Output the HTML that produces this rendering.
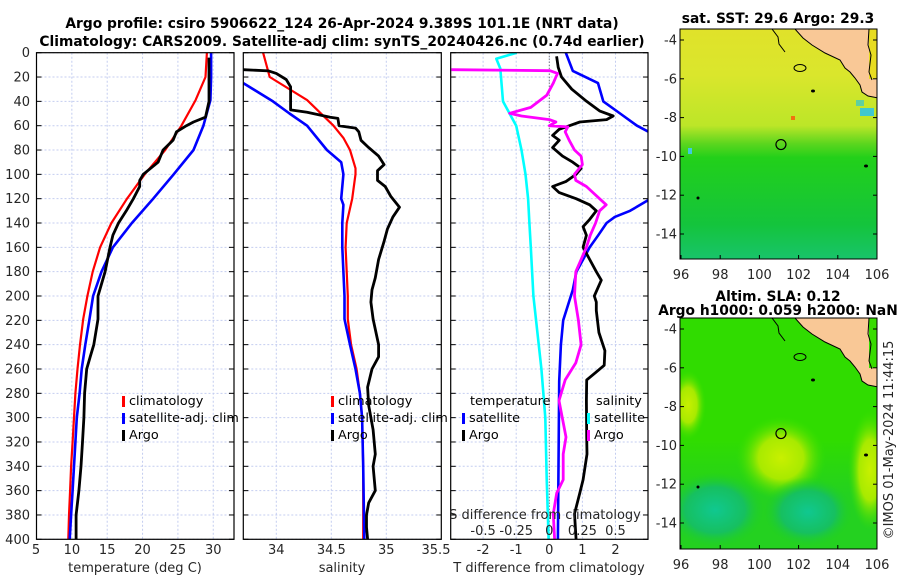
<!DOCTYPE html>
<html><head><meta charset="utf-8"><style>
body{margin:0;background:#fff;}
svg{display:block;font-family:"DejaVu Sans","Liberation Sans",sans-serif;}
.tk{font-size:13px;fill:#262626;}
.tt{font-size:13.8px;font-weight:bold;fill:#000;}
.lg{font-size:12.8px;fill:#000;}
</style></head><body>
<svg id="fig" width="900" height="580" viewBox="0 0 900 580">
<defs>
<clipPath id="c1"><rect x="36.5" y="52.7" width="197.5" height="486.6"/></clipPath>
<clipPath id="c2"><rect x="243.3" y="52.7" width="198" height="486.6"/></clipPath>
<clipPath id="c3"><rect x="450.7" y="52.7" width="197.3" height="486.6"/></clipPath>
<clipPath id="cm1"><rect x="680" y="29" width="197" height="230"/></clipPath>
<clipPath id="cm2"><rect x="680" y="318" width="197" height="231"/></clipPath>
<linearGradient id="sstg" x1="0" y1="0" x2="0" y2="1">
<stop offset="0" stop-color="#e0e22a"/><stop offset="0.2" stop-color="#dae62c"/><stop offset="0.42" stop-color="#bce628"/>
<stop offset="0.5" stop-color="#5ad61e"/><stop offset="0.56" stop-color="#22d01a"/><stop offset="0.85" stop-color="#14c43c"/><stop offset="1" stop-color="#18c46a"/>
</linearGradient>
<radialGradient id="slaY" cx="0.5" cy="0.5" r="0.5"><stop offset="0" stop-color="#c8f000"/><stop offset="0.5" stop-color="#a8ea00"/><stop offset="1" stop-color="#3ce000" stop-opacity="0"/></radialGradient>
<radialGradient id="slaT" cx="0.5" cy="0.5" r="0.5"><stop offset="0" stop-color="#10c890"/><stop offset="0.6" stop-color="#16c060"/><stop offset="1" stop-color="#20d020" stop-opacity="0"/></radialGradient>
<linearGradient id="slaBot" x1="0" y1="0" x2="0" y2="1"><stop offset="0" stop-color="#18c640" stop-opacity="0"/><stop offset="0.5" stop-color="#18c640" stop-opacity="0.5"/><stop offset="1" stop-color="#18c640" stop-opacity="0.5"/></linearGradient>
</defs>
<rect width="900" height="580" fill="#fff"/>
<g id="titles">
<text class="tt" x="342" y="28" text-anchor="middle">Argo profile: csiro 5906622_124 26-Apr-2024 9.389S 101.1E (NRT data)</text>
<text class="tt" x="342" y="46" text-anchor="middle">Climatology: CARS2009. Satellite-adj clim: synTS_20240426.nc (0.74d earlier)</text>
</g>
<g id="axes"></g>
<g id="maps"></g>
</svg>
<script>
// ---- data ----
const tClimDepth=[0,20,39,60,80,100,120,140,160,180,200,219,240,260,280,300,320,340,360,380,400];
const tClimVal=[29.1,28.9,27.5,25.5,23.2,20.3,17.8,15.6,14.0,12.95,12.2,11.6,11.15,10.8,10.5,10.3,10.1,9.9,9.75,9.6,9.5];
const tSatDepth=[0,20,39,60,80,100,120,140,160,180,200,219,240,260,280,300,320,340,360,380,400];
const tSatVal=[29.7,29.7,29.6,28.6,27.2,24.4,21.5,18.5,15.8,14.2,13.0,12.5,11.9,11.4,11.1,10.7,10.5,10.3,10.1,9.9,9.7];
const tArgoDepth=[4,40,53,57,60,65,72,80,90,100,105,110,120,130,140,150,160,180,200,219,240,250,260,280,300,320,340,360,370,380,400];
const tArgoVal=[29.4,29.4,28.9,27.2,26.2,24.8,24.3,22.9,22.2,20.1,19.6,19.6,18.7,17.7,16.6,15.8,15.4,14.7,13.7,13.7,13.1,12.6,12.1,11.8,11.7,11.5,11.3,11.0,10.8,10.6,10.6];
const sClimDepth=[0,20,39,60,70,80,95,100,120,140,160,200,219,240,260,280,300,340,400];
const sClimVal=[33.88,33.94,34.28,34.52,34.61,34.67,34.72,34.72,34.69,34.64,34.63,34.65,34.65,34.68,34.73,34.76,34.78,34.79,34.79];
const sSatDepth=[25,40,50,60,80,90,100,120,125,140,160,200,219,240,260,280,300,340,400];
const sSatVal=[33.70,33.97,34.12,34.28,34.46,34.59,34.61,34.59,34.61,34.60,34.60,34.62,34.62,34.67,34.72,34.76,34.78,34.79,34.80];
const sArgoDepth=[14,15,17,22,28,47,49,53,54,60,62,65,72,78,85,92,97,105,110,118,127,135,145,155,170,185,195,205,219,240,250,260,275,290,310,330,340,360,370,380,390,400];
const sArgoVal=[33.70,33.93,34.0,34.09,34.13,34.13,34.28,34.49,34.56,34.57,34.72,34.75,34.77,34.84,34.93,34.98,34.92,34.92,34.99,35.04,35.12,35.06,35.01,34.98,34.93,34.90,34.87,34.86,34.88,34.93,34.93,34.87,34.83,34.84,34.88,34.90,34.88,34.90,34.84,34.82,34.82,34.83];
const dSatSDepth=[0,5,13,40,60,80,100,120,140,160,180,200,260,300,350,400];
const dSatSVal=[-0.246,-0.40,-0.37,-0.35,-0.25,-0.21,-0.18,-0.16,-0.15,-0.14,-0.13,-0.12,-0.06,-0.03,-0.02,-0.005];
const dArgoSDepth=[14,14.8,17,20,25,35,45,49.8,52,55,57,60,61,65,72,80,85,92,100,105,110,115,125,130,140,150,160,170,180,200,220,240,255,269,286,316,330,351,362,379,400];
const dArgoSVal=[-0.74,0.005,0.063,0.05,0.03,-0.02,-0.14,-0.30,-0.21,0.0,0.05,0.0,0.14,0.12,0.15,0.19,0.24,0.25,0.19,0.2,0.28,0.33,0.43,0.38,0.35,0.31,0.28,0.24,0.2,0.19,0.22,0.24,0.2,0.12,0.073,0.126,0.105,0.105,0.056,0.03,0.04];
const dSatTDepth=[0,15,25,40,50,60,65,70,121,130,135,140,150,160,170,180,195,220,240,270,400];
const dSatTVal=[0.5,0.71,1.47,1.63,2.14,2.65,3.0,3.4,3.0,2.44,1.98,1.73,1.48,1.22,1.02,0.82,0.71,0.42,0.35,0.3,0.26];
const dArgoTDepth=[3,12,20,30,40,48,52,55,57,60,63,68,72,78,85,90,95,100,106,110,115,120,125,130,137,143,150,160,170,180,187,200,205,212,230,245,257,263,269,286,316,330,351,362,379,400];
const dArgoTVal=[0.22,0.27,0.37,0.68,1.13,1.53,1.93,1.73,0.92,0.61,0.3,0.1,0.3,0.1,0.4,0.71,0.96,0.81,0.5,0.1,0.3,0.81,1.22,1.42,1.22,1.02,1.12,1.02,1.22,1.42,1.57,1.36,1.42,1.42,1.5,1.68,1.66,1.4,1.13,1.12,1.13,1.14,1.02,0.92,0.76,0.81];
const depthTicks=[0,20,40,60,80,100,120,140,160,180,200,220,240,260,280,300,320,340,360,380,400];
const tempTicks=[5,10,15,20,25,30];
const salTicks=[34,34.5,35,35.5];
const tdiffTicks=[-2.5,-2,-1,0,1,2];
const sdiffTicks=[-0.5,-0.25,0,0.25,0.5];
const lonTicks=[96,98,100,102,104,106];
const latTicks=[-4,-6,-8,-10,-12,-14];
// ---- scales ----
const yD=d=>52.7+d*1.2165;
const xT=v=>36.5+(v-5)*7.07;
const xS=v=>243.3+(v-33.7)*110;
const xTD=v=>549.3+v*33.1;
const xSD=v=>549.3+v*132.4;
const NS='http://www.w3.org/2000/svg';
function mk(tag,attrs,parent){const e=document.createElementNS(NS,tag);for(const k in attrs)e.setAttribute(k,attrs[k]);parent.appendChild(e);return e;}
const ax=document.getElementById('axes');
const panels=[{x0:36.5,x1:234,clip:'c1',name:'temperature-panel'},{x0:243.3,x1:441.3,clip:'c2',name:'salinity-panel'},{x0:450.7,x1:648,clip:'c3',name:'difference-panel'}];
panels.forEach((p,i)=>{
  const g=mk('g',{},ax);
  
  
  depthTicks.forEach(d=>{
    const l=mk('line',{x1:p.x0,x2:p.x1,y1:yD(d),y2:yD(d),stroke:'#c4cdf0','stroke-width':1,'stroke-dasharray':'2,2'},g);
    
    
    mk('line',{x1:p.x0,x2:p.x0+5,y1:yD(d),y2:yD(d),stroke:'#000'},g);
    mk('line',{x1:p.x1-5,x2:p.x1,y1:yD(d),y2:yD(d),stroke:'#000'},g);
  });
});
function vgrid(ticks,sc,y0,lblY,name){
  ticks.forEach(t=>{
    const x=sc(t);
    const l=mk('line',{x1:x,x2:x,y1:52.7,y2:539.3,stroke:'#c4cdf0','stroke-width':1,'stroke-dasharray':'2,2'},ax);
    
    
    const tx=mk('text',{x:x,y:lblY,'text-anchor':'middle','class':'tk'},ax);
    tx.textContent=String(t);
    
    
  });
}
vgrid(tempTicks.filter(t=>t>5),xT,0,554,'temperature');
{const tx=mk('text',{x:36,y:554,'text-anchor':'middle','class':'tk'},ax);tx.textContent='5';}
vgrid(salTicks.filter(t=>t<35.5),xS,0,554,'salinity');
{const tx=mk('text',{x:436,y:554,'text-anchor':'middle','class':'tk'},ax);tx.textContent='35.5';}
vgrid(tdiffTicks.filter(t=>t>-2.5),xTD,0,554,'tdiff');
mk('line',{x1:549.3,x2:549.3,y1:52.7,y2:539.3,stroke:'#555','stroke-width':1,'stroke-dasharray':'1,2'},ax);
depthTicks.forEach(d=>{const tx=mk('text',{x:30,y:yD(d)+4.5,'text-anchor':'end','class':'tk'},ax);tx.textContent=d;

});
function line(xs,ds,sc,color,clip,name,w){
  const pts=xs.map((v,i)=>sc(v).toFixed(1)+','+yD(ds[i]).toFixed(1)).join(' ');
  const e=mk('polyline',{points:pts,fill:'none',stroke:color,'stroke-width':w||2.6,'clip-path':'url(#'+clip+')','stroke-linejoin':'round'},ax);
  
  
}
line(tClimVal,tClimDepth,xT,'#ff0000','c1','temp-climatology-line',2.2);
line(tSatVal,tSatDepth,xT,'#0000ff','c1','temp-satellite-line');
line(tArgoVal,tArgoDepth,xT,'#000','c1','temp-argo-line',2.8);
line(sClimVal,sClimDepth,xS,'#ff0000','c2','sal-climatology-line',2.2);
line(sSatVal,sSatDepth,xS,'#0000ff','c2','sal-satellite-line');
line(sArgoVal,sArgoDepth,xS,'#000','c2','sal-argo-line',2.8);
line(dSatSVal,dSatSDepth,xSD,'#00ffff','c3','sdiff-satellite-line');
line(dSatTVal,dSatTDepth,xTD,'#0000ff','c3','tdiff-satellite-line');
line(dArgoTVal,dArgoTDepth,xTD,'#000','c3','tdiff-argo-line',2.8);
line(dArgoSVal,dArgoSDepth,xSD,'#ff00ff','c3','sdiff-argo-line',2.8);
panels.forEach(p=>{const r=mk('rect',{x:p.x0,y:52.7,width:p.x1-p.x0,height:486.6,fill:'none',stroke:'#000','stroke-width':1.2},ax);

});
{const tx=mk('text',{x:545,y:519,'text-anchor':'middle','class':'tk'},ax);tx.textContent='S difference from climatology';

}
sdiffTicks.forEach(t=>{const tx=mk('text',{x:xSD(t),y:535,'text-anchor':'middle','class':'tk'},ax);tx.textContent=t===0?'0':String(t);

});
[['temperature (deg C)',135,'temperature-axis-title'],['salinity',342,'salinity-axis-title'],['T difference from climatology',549,'tdiff-axis-title']].forEach(a=>{
const tx=mk('text',{x:a[1],y:572,'text-anchor':'middle','class':'tk'},ax);tx.textContent=a[0];

});
function leg(x,y,color,label,name){
  const r=mk('rect',{x:x,y:y-9,width:3,height:11,fill:color},ax);
  
  
  const t=mk('text',{x:x+7,y:y,'class':'lg'},ax);t.textContent=label;
  
  
}
leg(122,405,'#ff0000','climatology','legend-t-climatology');
leg(122,422,'#0000ff','satellite-adj. clim','legend-t-satellite');
leg(122,439,'#000','Argo','legend-t-argo');
leg(331,405,'#ff0000','climatology','legend-s-climatology');
leg(331,422,'#0000ff','satellite-adj. clim','legend-s-satellite');
leg(331,439,'#000','Argo','legend-s-argo');
{const t=mk('text',{x:470,y:405,'class':'lg'},ax);t.textContent='temperature';}
leg(462,422,'#0000ff','satellite','legend-tdiff-satellite');
leg(462,439,'#000','Argo','legend-tdiff-argo');
{const t=mk('text',{x:596,y:405,'class':'lg'},ax);t.textContent='salinity';}
leg(587,422,'#00ffff','satellite','legend-sdiff-satellite');
leg(587,439,'#ff00ff','Argo','legend-sdiff-argo');

// ---- maps ----
const mg=document.getElementById('maps');
const lonX=v=>681+(v-96)*19.6;
function latY(v,top){return top+11+(-4-v)*19.4;}
function drawMap(top,clip,fillFn,name,titles){
  const g=mk('g',{},mg);
  
  
  const c=mk('g',{'clip-path':'url(#'+clip+')'},g);
  fillFn(c,top);
  const L=(px,py)=>px+','+(py+top-29);
  mk('polygon',{points:[L(795,29),L(803,38),L(812,45),L(825,53),L(840,60),L(845,68),L(850,72),L(855,78),L(860,85),L(862,92),L(868,96),L(878,98),L(878,29)].join(' '),fill:'#f9c896',stroke:'#000','stroke-width':1},c);
  mk('rect',{x:869,y:top,width:8,height:50,fill:top<100?'#e8dc20':'#38dc00'},c);
  mk('polyline',{points:[L(869,29),L(868,45),L(871,55),L(869,72),L(872,80)].join(' '),fill:'none',stroke:'#000','stroke-width':1},c);
  mk('polyline',{points:[L(772,29),L(778,37),L(779,44),L(785,52)].join(' '),fill:'none',stroke:'#000','stroke-width':1},c);
  mk('ellipse',{cx:800,cy:68+top-29,rx:6,ry:3.5,fill:'none',stroke:'#000','stroke-width':1},c);
  mk('ellipse',{cx:813,cy:91+top-29,rx:2,ry:1.5,fill:'#000'},c);
  mk('ellipse',{cx:866,cy:166+top-29,rx:2,ry:1.5,fill:'#000'},c);
  mk('ellipse',{cx:698,cy:198+top-29,rx:1.5,ry:1.5,fill:'#000'},c);
  const ci=mk('circle',{cx:lonX(101.1),cy:latY(-9.389,top),r:5,fill:'none',stroke:'#000','stroke-width':1.2},g);
  
  
  mk('rect',{x:680,y:top,width:197,height:clip==='cm1'?230:231,fill:'none',stroke:'#000','stroke-width':1},g);
  lonTicks.forEach(v=>{const x=lonX(v);mk('line',{x1:x,x2:x,y1:top+(clip==='cm1'?230:231),y2:top+(clip==='cm1'?226:227),stroke:'#000'},g);
    const t=mk('text',{x:x,y:top+(clip==='cm1'?250:251),'text-anchor':'middle','class':'tk'},g);t.textContent=v;
    
    });
  latTicks.forEach(v=>{const y=latY(v,top);mk('line',{x1:680,x2:684,y1:y,y2:y,stroke:'#000'},g);mk('line',{x1:873,x2:877,y1:y,y2:y,stroke:'#000'},g);
    const t=mk('text',{x:677,y:y+4.5,'text-anchor':'end','class':'tk'},g);t.textContent=v;
    
    });
  titles.forEach((tt,i)=>{const t=mk('text',{x:778,y:tt[1],'text-anchor':'middle','class':'tt','font-size':'13px'},g);t.textContent=tt[0];
    
    });
}
drawMap(29,'cm1',(c,top)=>{
  mk('rect',{x:680,y:top,width:197,height:230,fill:'url(#sstg)'},c);
  mk('rect',{x:860,y:108,width:14,height:8,fill:'#40c8d0'},c);
  mk('rect',{x:856,y:100,width:8,height:6,fill:'#60d0a0'},c);
  mk('rect',{x:791,y:116,width:4,height:4,fill:'#f07010'},c);
  mk('rect',{x:688,y:148,width:4,height:6,fill:'#40c8e0'},c);
},'sst-map',[['sat. SST: 29.6 Argo: 29.3',23]]);
drawMap(318,'cm2',(c,top)=>{
  mk('rect',{x:680,y:top,width:197,height:231,fill:'#30dc00'},c);
  mk('rect',{x:680,y:440,width:197,height:109,fill:'url(#slaBot)'},c);
  mk('ellipse',{cx:688,cy:405,rx:18,ry:35,fill:'url(#slaY)'},c);
  mk('ellipse',{cx:870,cy:470,rx:22,ry:60,fill:'url(#slaY)'},c);
  mk('ellipse',{cx:781,cy:458,rx:45,ry:42,fill:'url(#slaY)'},c);
  mk('ellipse',{cx:808,cy:512,rx:45,ry:35,fill:'url(#slaT)'},c);
  mk('ellipse',{cx:715,cy:510,rx:50,ry:38,fill:'url(#slaT)'},c);
},'sla-map',[['Altim. SLA: 0.12',301],['Argo h1000: 0.059 h2000: NaN',315]]);
{const t=mk('text',{x:0,y:0,'class':'tk','text-anchor':'middle',transform:'translate(893,440) rotate(-90)'},mg);t.textContent='©IMOS 01-May-2024 11:44:15';

}
</script>
</body></html>
